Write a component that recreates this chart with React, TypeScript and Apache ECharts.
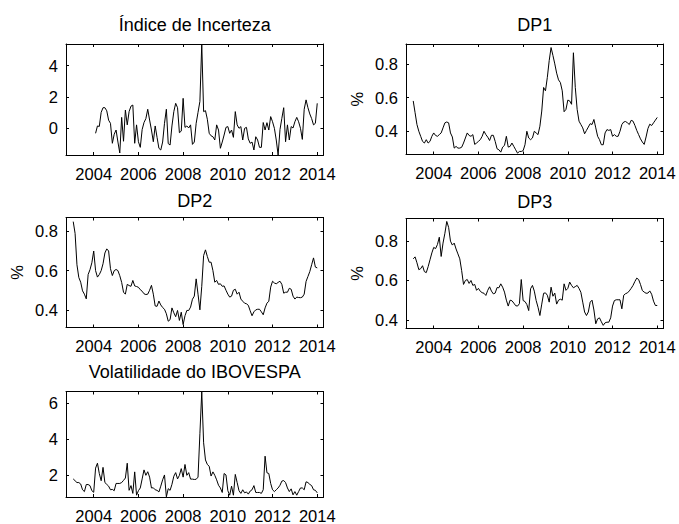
import React, { useEffect, useRef } from "react";
import * as echarts from "echarts";

const titles = ["Índice de Incerteza", "DP1", "DP2", "DP3", "Volatilidade do IBOVESPA"];
const xTickLabels = [2004, 2006, 2008, 2010, 2012, 2014];

// Índice de Incerteza: Jan 2004 .. Dec 2013
const incertezaStartYear = 2004;
const incerteza = [
  -0.34, 0.13, 0.1, 1.0, 1.3, 1.3, 1.1, 0.5, 0.3, -0.98, -0.4, -0.13,
  -0.9, -1.6, 0.68, -0.85, 1.15, 0.2, 1.05, 1.4, 1.47, -0.98, 0.2, -0.88,
  -1.24, -0.1, 0.35, 0.6, 1.2, 0.51, -0.13, -0.88, 0.13, -0.6, -1.3, -1.41,
  -0.9, 0.3, 1.2, -1.0, -1.09, 0.13, 1.05, 1.58, 1.3, -0.3, -0.2, 1.9,
  0.04, 0.13, 0.0, 0.2, -1.05, -0.9, 0.3, 1.0, 1.7, 5.38, 1.05, 1.11,
  0.56, -0.34, -0.5, -0.56, -0.77, 0.2, -0.13, -1.3, -0.9, -0.45, 0.04, 0.09,
  -0.34, -0.13, -0.6, 1.05, 0.2, -0.02, 0.09, -0.77, -0.02, 0.04, -0.7, -0.98,
  -0.9, -1.41, -0.56, -0.77, -1.24, -1.24, 0.35, -0.13, 0.34, -0.13, 0.73, 0.4,
  -0.02, -0.77, -1.73, -0.1, 0.62, 1.3, -0.88, 0.2, -0.77, 0.09, 0.0, 0.4,
  0.68, 0.4, -0.02, -0.73, 1.2, 1.8, 1.3, 0.9, 0.6, 0.2, 0.3, 1.58,
];

// DP1, DP2, DP3, Volatilidade: Jan 2003 .. Dec 2013
const seriesStartYear = 2003;
const dp1 = [
  0.58, 0.51, 0.44, 0.40, 0.37, 0.34, 0.33, 0.35, 0.33, 0.34, 0.37, 0.39,
  0.375, 0.37, 0.38, 0.39, 0.42, 0.45, 0.455, 0.45, 0.39, 0.366, 0.30, 0.31,
  0.30, 0.30, 0.305, 0.33, 0.36, 0.39, 0.375, 0.37, 0.38, 0.322, 0.33, 0.34,
  0.35, 0.37, 0.40, 0.38, 0.365, 0.345, 0.376, 0.376, 0.34, 0.296, 0.29, 0.276,
  0.306, 0.316, 0.37, 0.306, 0.31, 0.33, 0.31, 0.29, 0.27, 0.28, 0.28, 0.285,
  0.32, 0.40, 0.36, 0.35, 0.36, 0.40, 0.39, 0.38, 0.43, 0.52, 0.66, 0.64,
  0.72, 0.82, 0.897, 0.85, 0.80, 0.745, 0.705, 0.689, 0.64, 0.516, 0.53, 0.585,
  0.58, 0.56, 0.866, 0.66, 0.53, 0.46, 0.44, 0.42, 0.385, 0.405, 0.425, 0.445,
  0.44, 0.47, 0.42, 0.37, 0.35, 0.32, 0.32, 0.39, 0.41, 0.405, 0.41, 0.37,
  0.38, 0.37, 0.37, 0.40, 0.44, 0.455, 0.458, 0.45, 0.44, 0.465, 0.46, 0.435,
  0.405, 0.38, 0.355, 0.336, 0.322, 0.366, 0.416, 0.442, 0.434, 0.45, 0.466, 0.482,
];
const dp2 = [
  0.85, 0.79, 0.63, 0.565, 0.541, 0.497, 0.48, 0.456, 0.58, 0.605, 0.64, 0.70,
  0.60, 0.567, 0.58, 0.60, 0.635, 0.69, 0.711, 0.70, 0.61, 0.575, 0.60, 0.606,
  0.60, 0.574, 0.54, 0.49, 0.48, 0.53, 0.524, 0.52, 0.55, 0.522, 0.519, 0.515,
  0.503, 0.495, 0.482, 0.478, 0.48, 0.50, 0.525, 0.48, 0.42, 0.418, 0.445, 0.425,
  0.412, 0.403, 0.38, 0.342, 0.35, 0.41, 0.385, 0.365, 0.397, 0.346, 0.388, 0.325,
  0.37, 0.397, 0.397, 0.414, 0.454, 0.47, 0.558, 0.48, 0.40, 0.52, 0.677, 0.706,
  0.672, 0.643, 0.643, 0.60, 0.541, 0.55, 0.53, 0.533, 0.52, 0.522, 0.50, 0.48,
  0.465, 0.47, 0.50, 0.505, 0.48, 0.49, 0.455, 0.444, 0.434, 0.431, 0.423, 0.395,
  0.37, 0.39, 0.40, 0.403, 0.403, 0.39, 0.375, 0.41, 0.434, 0.444, 0.516, 0.546,
  0.537, 0.533, 0.54, 0.546, 0.53, 0.485, 0.49, 0.49, 0.51, 0.505, 0.47, 0.455,
  0.465, 0.463, 0.462, 0.465, 0.48, 0.545, 0.57, 0.595, 0.63, 0.665, 0.618, 0.614,
];
const dp3 = [
  0.71, 0.72, 0.69, 0.655, 0.66, 0.675, 0.645, 0.64, 0.67, 0.705, 0.74, 0.768,
  0.762, 0.783, 0.82, 0.722, 0.79, 0.84, 0.90, 0.87, 0.80, 0.78, 0.79, 0.76,
  0.735, 0.71, 0.65, 0.58, 0.60, 0.605, 0.585, 0.60, 0.575, 0.58, 0.55, 0.56,
  0.545, 0.538, 0.535, 0.524, 0.55, 0.568, 0.546, 0.532, 0.536, 0.564, 0.563, 0.583,
  0.566, 0.541, 0.50, 0.47, 0.50, 0.497, 0.485, 0.472, 0.47, 0.482, 0.605, 0.498,
  0.493, 0.478, 0.447, 0.558, 0.575, 0.546, 0.498, 0.464, 0.422, 0.48, 0.535, 0.537,
  0.525, 0.49, 0.566, 0.52, 0.536, 0.48, 0.50, 0.505, 0.50, 0.583, 0.55, 0.56,
  0.592, 0.575, 0.563, 0.569, 0.575, 0.56, 0.54, 0.49, 0.44, 0.422, 0.44, 0.49,
  0.50, 0.45, 0.38, 0.405, 0.41, 0.39, 0.372, 0.385, 0.388, 0.388, 0.41, 0.47,
  0.498, 0.502, 0.502, 0.502, 0.456, 0.525, 0.533, 0.537, 0.547, 0.56, 0.575, 0.595,
  0.612, 0.605, 0.58, 0.549, 0.541, 0.535, 0.536, 0.547, 0.53, 0.495, 0.473, 0.473,
];
const volatilidade = [
  1.8, 1.7, 1.6, 1.6, 1.52, 1.2, 1.1, 1.49, 1.49, 1.43, 1.15, 1.06,
  2.4, 2.67, 2.1, 1.7, 2.44, 1.6, 1.5, 1.4, 1.2, 1.22, 1.15, 1.55,
  1.55, 1.55, 1.6, 1.72, 1.85, 2.67, 1.17, 1.43, 1.0, 2.19, 0.9, 1.15,
  1.3, 1.8, 2.3, 2.0, 2.2, 1.9, 1.3, 1.31, 1.2, 1.17, 1.08, 1.4,
  1.75, 2.02, 0.81, 1.26, 1.17, 1.5, 1.95, 2.15, 1.8, 2.0, 2.37, 1.9,
  2.6, 2.0, 2.15, 1.79, 1.79, 1.77, 1.78, 1.9, 4.3, 6.62, 3.8, 2.85,
  2.6, 2.5, 1.96, 2.19, 2.0, 1.75, 1.45, 1.3, 1.05, 2.1, 2.02, 1.15,
  0.9, 1.4, 0.9, 2.05, 1.6, 1.15, 1.0, 1.2, 1.03, 1.08, 0.96, 1.13,
  1.2, 1.43, 1.05, 1.05, 1.05, 1.0, 1.2, 3.06, 2.14, 2.1, 1.55, 1.2,
  1.1, 1.2, 1.3, 1.45, 1.68, 1.71, 1.6, 1.3, 1.1, 1.25, 0.92, 1.1,
  0.9, 1.1, 1.3, 1.3, 1.2, 1.64, 1.6, 1.5, 1.43, 1.2, 1.17, 1.03,
];

const yTicks = [
  [0, 2, 4],
  [0.4, 0.6, 0.8],
  [0.4, 0.6, 0.8],
  [0.4, 0.6, 0.8],
  [2, 4, 6],
];
const yLimits = [
  [-1.73, 5.38],
  [0.262, 0.918],
  [0.31, 0.871],
  [0.356, 0.915],
  [0.8, 6.64],
];
const yNames = ["", "%", "%", "%", ""];

// ---- Layout / style ----
const FONT = '"Liberation Sans", Arial, Helvetica, sans-serif';
const X_MIN = 2002.76;
const X_MAX = 2014.28;
const GRIDS = [
  { left: 66, top: 44, width: 257.5, height: 111 },
  { left: 406, top: 44, width: 257.5, height: 110.5 },
  { left: 66, top: 217.5, width: 257.5, height: 110 },
  { left: 406, top: 218.5, width: 257.5, height: 110 },
  { left: 66, top: 391.5, width: 257.5, height: 110 },
];
const TITLE_Y = [25, 25, 201, 201.5, 372];

const toMonthly = (startYear: number, values: number[]) =>
  values.map((v, i) => [startYear + (i + 1) / 12, v]);

const seriesData = [
  toMonthly(incertezaStartYear, incerteza),
  toMonthly(seriesStartYear, dp1),
  toMonthly(seriesStartYear, dp2),
  toMonthly(seriesStartYear, dp3),
  toMonthly(seriesStartYear, volatilidade),
];

const fmt = (v: number) => String(Math.round(v * 1000) / 1000);

export default function App() {
  const ref = useRef<HTMLDivElement>(null);
  useEffect(() => {
    if (!ref.current) return;
    const chart = echarts.init(ref.current, undefined, { renderer: "svg" });
    const lineStyle = { color: "#000", width: 1 };
    const xAxis: any[] = [];
    const yAxis: any[] = [];
    const series: any[] = [];
    const graphic: any[] = [];
    GRIDS.forEach((g, gi) => {
      const common = {
        type: "value",
        gridIndex: gi,
        min: X_MIN,
        max: X_MAX,
        splitLine: { show: false },
        axisLine: { show: true, onZero: false, lineStyle },
        axisTick: { show: true, inside: true, length: 3, lineStyle, customValues: xTickLabels },
      };
      xAxis.push({
        ...common,
        position: "bottom",
        axisLabel: {
          show: true,
          customValues: xTickLabels,
          formatter: (v: number) => String(v),
          color: "#000",
          fontFamily: FONT,
          fontSize: 16.5,
          margin: 10,
        },
      });
      xAxis.push({ ...common, position: "top", axisLabel: { show: false } });
      const yCommon = {
        type: "value",
        gridIndex: gi,
        min: yLimits[gi][0],
        max: yLimits[gi][1],
        splitLine: { show: false },
        axisLine: { show: true, onZero: false, lineStyle },
        axisTick: { show: true, inside: true, length: 3, lineStyle, customValues: yTicks[gi] },
      };
      yAxis.push({
        ...yCommon,
        position: "left",
        name: yNames[gi],
        nameLocation: "middle",
        nameGap: 41,
        nameTextStyle: { color: "#000", fontFamily: FONT, fontSize: 16.5 },
        axisLabel: {
          show: true,
          customValues: yTicks[gi],
          formatter: fmt,
          color: "#000",
          fontFamily: FONT,
          fontSize: 16.5,
          margin: 8,
        },
      });
      yAxis.push({ ...yCommon, position: "right", axisLabel: { show: false } });
      series.push({
        type: "line",
        xAxisIndex: gi * 2,
        yAxisIndex: gi * 2,
        data: seriesData[gi],
        symbol: "none",
        lineStyle,
        silent: true,
      });
      graphic.push({
        type: "text",
        x: g.left + g.width / 2,
        y: TITLE_Y[gi],
        style: {
          text: titles[gi],
          fill: "#000",
          font: `18px ${FONT}`,
          align: "center",
          verticalAlign: "middle",
        },
      });
    });
    chart.setOption({
      animation: false,
      backgroundColor: "#fff",
      grid: GRIDS.map((g) => ({ ...g, containLabel: false })),
      xAxis,
      yAxis,
      series,
      graphic,
    });
    return () => chart.dispose();
  }, []);
  return (
    <div
      ref={ref}
      style={{ position: "absolute", left: 0, top: 0, width: 679, height: 524, background: "#fff" }}
    />
  );
}
